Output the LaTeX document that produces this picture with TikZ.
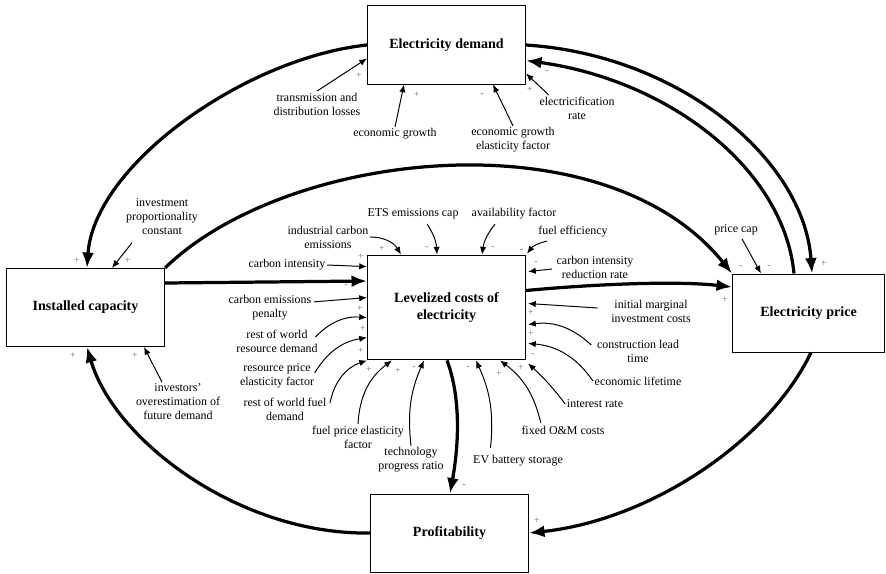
\documentclass[tikz,border=0pt]{standalone}
\usepackage{fontspec}
\setmainfont{Liberation Serif}
\usetikzlibrary{arrows.meta,calc}

\begin{document}
\begin{tikzpicture}[x=0.025cm, y=-0.025cm,
  box/.style={draw, line width=0.7pt, minimum width=3.95cm, minimum height=1.95cm, align=center, font=\bfseries\fontsize{10}{12}\selectfont},
  var/.style={align=center, inner sep=1pt, font=\fontsize{8.5}{10}\selectfont},
  sgn/.style={inner sep=0pt, text=black!55, font=\fontsize{7}{7}\selectfont},
  flow/.style={line width=2.3pt, -{Latex[length=11pt,width=8.5pt]}},
  link/.style={line width=0.7pt, -{Latex[length=5.5pt,width=4.5pt]}}]

\useasboundingbox (0,0) rectangle (886,573);

% stocks
\node[box] (ed) at (446.5,45) {Electricity demand};
\node[box] (ic) at (85.5,307.5) {Installed capacity};
\node[box, minimum height=2.62cm] (lc) at (446.5,307.5) {Levelized costs of\\electricity};
\node[box, minimum width=3.8cm] (ep) at (808.5,313) {Electricity price};
\node[box] (prof) at (449.5,533) {Profitability};

% main loops
\draw[flow] (ed.west) .. controls +(-122,13) and +(7,-103) .. ($(ic.north west)+(81,0)$);
\draw[flow] (ed.east) .. controls +(154,10) and +(-8,-114) .. ($(ep.north west)+(80,0)$);
\draw[flow] ($(ep.north west)+(62,0)$) .. controls +(-10,-104) and +(144,20) .. ($(ed.south east)+(0,-24)$);
\draw[flow] ($(ic.east)+(0,-24.5)$) -- ($(lc.west)+(0,-26.5)$);
\draw[flow] (ic.north east) .. controls +(121,-118) and +(-128,-159) .. (ep.north west);
\draw[flow] ($(lc.east)+(0,-17)$) .. controls +(75,-7) and +(-53,-6) .. ($(ep.west)+(0,-26)$);
\draw[flow] ($(ep.south west)+(79,0)$) .. controls +(-42,88) and +(122,-13) .. (prof.east);
\draw[flow] (prof.west) .. controls +(-131,2) and +(27,93) .. ($(ic.south west)+(81,0)$);
\draw[flow] ($(lc.south)+(0.5,0)$) .. controls +(15,40) and +(8,-44) .. ($(prof.north)+(0.5,0)$);

% variables
\node[var] (tdl) at (317,104) {transmission and\\distribution losses};
\node[var] (eg) at (395,134) {economic growth};
\node[var] (egef) at (513,140) {economic growth\\elasticity factor};
\node[var] (er) at (577,108) {electricification\\rate};
\node[var] (ipc) at (162,217) {investment\\proportionality\\constant};
\node[var] (ioe) at (178,402) {investors'\\overestimation of\\future demand};
\node[var] (ice) at (328,237) {industrial carbon\\emissions};
\node[var] (ci) at (287,265) {carbon intensity};
\node[var] (cep) at (270,308) {carbon emissions\\penalty};
\node[var] (rwrd) at (277,341) {rest of world\\resource demand};
\node[var] (rpef) at (277,376) {resource price\\elasticity factor};
\node[var] (rwfd) at (285,409) {rest of world fuel\\demand};
\node[var] (fpef) at (358,437) {fuel price elasticity\\factor};
\node[var] (tpr) at (411,460) {technology\\progress ratio};
\node[var] (evb) at (518,461) {EV battery storage};
\node[var] (fom) at (563,430) {fixed O\&M costs};
\node[var] (ir) at (595,404) {interest rate};
\node[var] (el) at (638,381) {economic lifetime};
\node[var] (cld) at (638,351) {construction lead\\time};
\node[var] (imic) at (651,311) {initial marginal\\investment costs};
\node[var] (cirr) at (595,267) {carbon intensity\\reduction rate};
\node[var] (fe) at (573,232) {fuel efficiency};
\node[var] (af) at (514,214) {availability factor};
\node[var] (ets) at (413,214) {ETS emissions cap};
\node[var] (pc) at (736,230) {price cap};

% links
\draw[link] (tdl.north) -- ($(ed.south west)+(0,-26)$);
\draw[link] (eg.north) -- ($(ed.south west)+(37,0)$);
\draw[link] (egef.north) -- ($(ed.south west)+(126,0)$);
\draw[link] ($(er.north west)+(11,0)$) -- ($(ed.south east)+(0,-11)$);
\draw[link] ($(ipc.south)+(-30,6)$) -- ($(ic.north west)+(106,0)$);
\draw[link] ($(ioe.north)+(-16,0)$) -- ($(ic.south west)+(138,0)$);
\draw[link] (ice.east) to[bend left=30] ($(lc.north west)+(34,0)$);
\draw[link] (ci.east) -- ($(lc.north west)+(0,12)$);
\draw[link] ($(cep.north east)+(1,8)$) -- ($(lc.north west)+(0,43)$);
\draw[link] ($(rwrd.east)+(-4,-4)$) to[bend left=25] ($(lc.north west)+(0,63)$);
\draw[link] ($(rpef.east)+(-1,-3)$) to[bend left=25] ($(lc.north west)+(0,83)$);
\draw[link] ($(rwfd.north east)+(2,7)$) to[bend left=30] (lc.south west);
\draw[link] (fpef.north) to[bend left=25] ($(lc.south west)+(25,0)$);
\draw[link] (tpr.north) to[bend left=15] ($(lc.south west)+(57,0)$);
\draw[link] ($(evb.north west)+(19,-6)$) to[bend right=15] ($(lc.south west)+(109,0)$);
\draw[link] ($(fom.north west)+(21,-1)$) to[bend right=20] ($(lc.south west)+(133,0)$);
\draw[link] (ir.west) to[bend right=5] ($(lc.south east)+(2,3)$);
\draw[link] (el.west) to[bend right=25] ($(lc.south east)+(2,-17)$);
\draw[link] ($(cld.north west)+(-4,7)$) to[bend right=25] ($(lc.east)+(2,17)$);
\draw[link] ($(imic.west)+(-12,-3)$) -- ($(lc.east)+(2,-4)$);
\draw[link] ($(cirr.west)+(-3,2)$) -- ($(lc.north east)+(2,17)$);
\draw[link] ($(fe.south west)+(10,2)$) to[bend right=20] ($(lc.north east)+(1,-1)$);
\draw[link] ($(af.south west)+(25,3)$) to[bend right=15] ($(lc.north west)+(115,0)$);
\draw[link] ($(ets.south)+(14,3)$) to[bend left=15] ($(lc.north west)+(70,0)$);
\draw[link] ($(pc.south)+(6,2)$) -- ($(ep.north west)+(29,0)$);

% polarities
\foreach \x/\y/\s [count=\i] in {359/76/+, 417/95/+, 482/95/-, 530/90/+, 547/72/-,
    824/264/+, 741/267/-, 769/267/-, 725/300/+,
    77/261/+, 128/261/+, 73/356/+, 135/356/+,
    382/249/+, 427/248/-, 493/248/-, 522/251/-,
    361/257/+, 346/286/-, 360/309/+, 363/329/+, 361/351/+,
    369/370/+, 398/371/+, 414/368/-, 468/368/-, 499/374/+, 521/368/+,
    536/263/-, 531/313/+, 531/334/+, 533/355/-,
    464/486/-, 537/521/+}
  \node[sgn] (s\i) at (\x,\y) {\s};

\end{tikzpicture}
\end{document}
